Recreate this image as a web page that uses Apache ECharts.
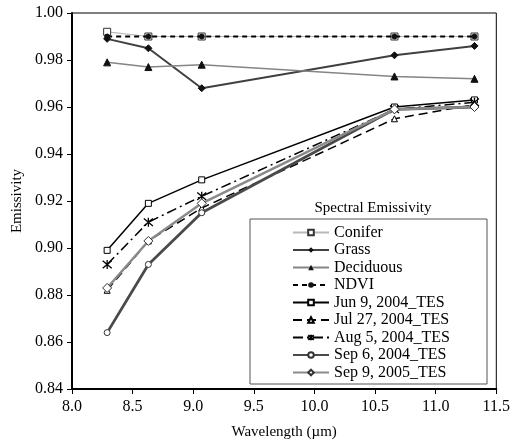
<!DOCTYPE html>
<html>
<head>
<meta charset="utf-8">
<script src="https://cdn.jsdelivr.net/npm/echarts@6/dist/echarts.min.js"></script>
<style>
  html, body { margin: 0; padding: 0; background: #fff; }
  #chart { width: 513px; height: 445px; }
</style>
</head>
<body>
<div id="chart"></div>
<script>
// wavelengths of the five TES bands (µm)
const wavelengths = [8.29, 8.63, 9.07, 10.66, 11.32];

// emissivity
const conifer   = [0.992, 0.990, 0.990, 0.990, 0.990];
const grass     = [0.989, 0.985, 0.968, 0.982, 0.986];
const deciduous = [0.979, 0.977, 0.978, 0.973, 0.972];
const ndvi      = [0.990, 0.990, 0.990, 0.990, 0.990];
const jun9      = [0.899, 0.919, 0.929, 0.960, 0.963];
const jul27     = [0.882, 0.903, 0.917, 0.955, 0.961];
const aug5      = [0.893, 0.911, 0.922, 0.959, 0.962];
const sep6      = [0.864, 0.893, 0.915, 0.959, 0.960];
const sep9      = [0.883, 0.903, 0.919, 0.959, 0.960];

const seriesNames = [
  "Conifer", "Grass", "Deciduous", "NDVI",
  "Jun 9, 2004_TES", "Jul 27, 2004_TES", "Aug 5, 2004_TES",
  "Sep 6, 2004_TES", "Sep 9, 2005_TES"
];

const font = "Liberation Serif";
const pairs = (vals) => vals.map((v, i) => [wavelengths[i], v]);
// asterisk marker (X with a vertical bar)
const asterisk = "path://M0,0L10,10M10,0L0,10M5,-1L5,11";

const myChart = echarts.init(document.getElementById("chart"));

// series styles
const styles = [
  { data: conifer, line: { color: "#b8b8b8", width: 1.2 }, symbol: "rect", size: 7,
    item: { color: "#fff", borderColor: "#333", borderWidth: 1 } },
  { data: grass, line: { color: "#404040", width: 2 }, symbol: "diamond", size: 7,
    item: { color: "#111", borderColor: "#111" } },
  { data: deciduous, line: { color: "#858585", width: 1.5 }, symbol: "triangle", size: 7,
    item: { color: "#111", borderColor: "#111" } },
  { data: ndvi, line: { color: "#000", width: 2, type: [5, 4] }, symbol: "circle", size: 5,
    item: { color: "#111", borderColor: "#111" } },
  { data: jun9, line: { color: "#000", width: 1.5 }, symbol: "rect", size: 6,
    item: { color: "#fff", borderColor: "#000", borderWidth: 1 } },
  { data: jul27, line: { color: "#000", width: 1.5, type: [9, 5] }, symbol: "triangle", size: 6,
    item: { color: "#fff", borderColor: "#000", borderWidth: 1 } },
  { data: aug5, line: { color: "#000", width: 1.5, type: [10, 4, 2, 4] }, symbol: asterisk, size: 9,
    item: { color: "none", borderColor: "#000", borderWidth: 1.3 } },
  { data: sep6, line: { color: "#4a4a4a", width: 2.8 }, symbol: "circle", size: 6,
    item: { color: "#fff", borderColor: "#333", borderWidth: 1 } },
  { data: sep9, line: { color: "#8a8a8a", width: 2.5 }, symbol: "diamond", size: 9,
    item: { color: "#fff", borderColor: "#333", borderWidth: 1 } }
];

let option = {
  backgroundColor: "#fff",
  animation: false,
  textStyle: { fontFamily: font },
  grid: {
    left: 72, right: 16, top: 13, bottom: 53,
    show: true, borderColor: "#000", borderWidth: 1
  },
  xAxis: {
    type: "value",
    min: 8.0, max: 11.5, interval: 0.5,
    name: "Wavelength (µm)",
    nameLocation: "middle",
    nameGap: 36,
    nameTextStyle: { fontFamily: font, fontSize: 15, color: "#000" },
    axisLine: { show: true, lineStyle: { color: "#000", width: 2 } },
    axisTick: { show: true, inside: false, length: 5, lineStyle: { color: "#000" } },
    axisLabel: { fontFamily: font, fontSize: 16, color: "#000", margin: 10,
      formatter: (v) => v.toFixed(1) },
    splitLine: { show: false }
  },
  yAxis: {
    type: "value",
    min: 0.84, max: 1.00, interval: 0.02,
    name: "Emissivity",
    nameLocation: "middle",
    nameRotate: 90,
    nameGap: 46,
    nameTextStyle: { fontFamily: font, fontSize: 15, color: "#000" },
    axisLine: { show: true, lineStyle: { color: "#000", width: 2 } },
    axisTick: { show: true, inside: false, length: 5, lineStyle: { color: "#000" } },
    axisLabel: { fontFamily: font, fontSize: 16, color: "#000", margin: 9,
      formatter: (v) => v.toFixed(2) },
    splitLine: { show: false }
  },
  legend: {
    orient: "vertical",
    left: 292,
    top: 224,
    itemWidth: 36,
    itemHeight: 7,
    itemGap: 0.5,
    padding: 0,
    textStyle: { fontFamily: font, fontSize: 16, color: "#000", lineHeight: 17 },
    data: seriesNames
  },
  graphic: [
    {
      type: "rect",
      shape: { x: 250, y: 219, width: 237, height: 165 },
      style: { fill: "#fff", stroke: "#555", lineWidth: 1 },
      z: 0
    },
    {
      type: "text",
      x: 373, y: 208,
      style: { text: "Spectral Emissivity", font: "15px " + font, fill: "#000",
        textAlign: "center", textVerticalAlign: "middle" }
    }
  ],
  series: styles.map((s, i) => ({
    name: seriesNames[i],
    type: "line",
    data: pairs(s.data),
    symbol: s.symbol,
    symbolSize: s.size,
    showAllSymbol: true,
    lineStyle: s.line,
    itemStyle: s.item,
    z: 3 + i
  }))
};

myChart.setOption(option);
</script>
</body>
</html>
